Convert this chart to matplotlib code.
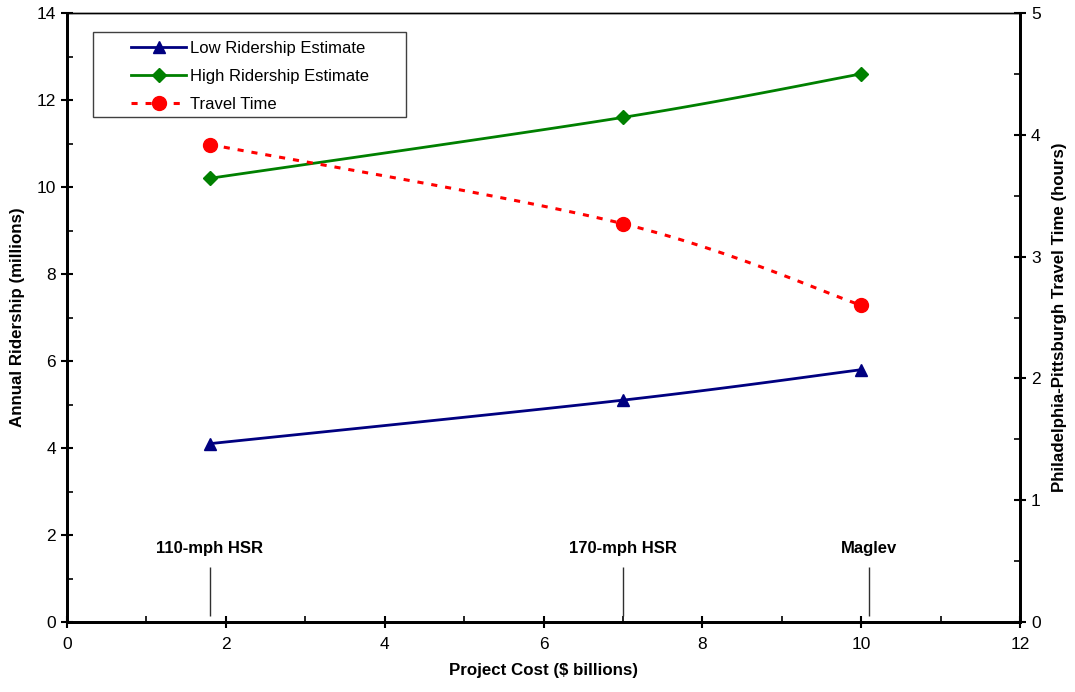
import numpy as np
import matplotlib
matplotlib.use("Agg")
import matplotlib.pyplot as plt
from matplotlib.ticker import MultipleLocator
from matplotlib.patches import Rectangle

plt.rcParams['font.family'] = ['Liberation Sans', 'DejaVu Sans']

cost = [1.8, 7.0, 10.0]
low_rider = [4.1, 5.1, 5.8]
high_rider = [10.2, 11.6, 12.6]
travel_time = [3.92, 3.27, 2.60]

options = ['110-mph HSR', '170-mph HSR', 'Maglev']
option_x = [1.8, 7.0, 10.1]


def smooth(x, y, n=40):
    # Excel-style bezier smoothing through the points
    p = np.column_stack([x, y]).astype(float)
    ext = np.vstack([p[0], p, p[-1]])
    out = []
    for i in range(len(p) - 1):
        p0, p1, p2, p3 = ext[i], ext[i + 1], ext[i + 2], ext[i + 3]
        c1 = p1 + (p2 - p0) / 6
        c2 = p2 - (p3 - p1) / 6
        t = np.linspace(0, 1, n)[:, None]
        seg = ((1 - t) ** 3) * p1 + 3 * ((1 - t) ** 2) * t * c1 + 3 * (1 - t) * t ** 2 * c2 + t ** 3 * p2
        out.append(seg if i == 0 else seg[1:])
    s = np.vstack(out)
    return s[:, 0], s[:, 1]


fig = plt.figure(figsize=(10.75, 6.92), dpi=100)
ax = fig.add_axes([67 / 1075, 70 / 692, 953 / 1075, 609 / 692])
ax2 = ax.twinx()

navy = '#000080'
green = '#008000'
red = '#ff0000'
dash = (0, (2.0, 2.6))

sx, sy = smooth(cost, low_rider)
ax.plot(sx, sy, color=navy, lw=2)
ax.plot(cost, low_rider, ls='none', marker='^', color=navy, ms=9)
sx, sy = smooth(cost, high_rider)
ax.plot(sx, sy, color=green, lw=2)
ax.plot(cost, high_rider, ls='none', marker='D', color=green, ms=7)
sx, sy = smooth(cost, travel_time)
ax2.plot(sx, sy, color=red, lw=2.2, ls=dash)
ax2.plot(cost, travel_time, ls='none', marker='o', color=red, ms=10)

# legend handles
l1, = ax.plot([], [], color=navy, lw=2, marker='^', ms=9)
l2, = ax.plot([], [], color=green, lw=2, marker='D', ms=7)
l3, = ax.plot([], [], color=red, lw=2.2, ls=dash, marker='o', ms=10)
leg = ax.legend([l1, l2, l3], ['Low Ridership Estimate', 'High Ridership Estimate', 'Travel Time'],
                loc='upper left', bbox_to_anchor=(64 / 953, 1 - 28 / 609), fontsize=12,
                frameon=False, handlelength=3.3, borderpad=0, labelspacing=0.78,
                handletextpad=0.25, borderaxespad=0)
leg.set_zorder(10)
ax.add_patch(Rectangle((26 / 953, 505 / 609), 313 / 953, 85 / 609, transform=ax.transAxes,
                       facecolor='white', edgecolor='#404040', lw=1, zorder=9))

for name, xv in zip(options, option_x):
    ax.vlines(xv, 0.14, 1.26, color='#303030', lw=1)
    ax.text(xv, 1.7, name, ha='center', va='center', fontsize=12, fontweight='bold')

ax.set_xlim(0, 12)
ax.set_ylim(0, 14)
ax2.set_ylim(0, 5)
ax.xaxis.set_major_locator(MultipleLocator(2))
ax.xaxis.set_minor_locator(MultipleLocator(1))
ax.yaxis.set_major_locator(MultipleLocator(2))
ax.yaxis.set_minor_locator(MultipleLocator(1))
ax2.yaxis.set_major_locator(MultipleLocator(1))
ax2.yaxis.set_minor_locator(MultipleLocator(0.5))

for a in (ax, ax2):
    a.tick_params(which='major', direction='inout', length=9, width=1.5, labelsize=12.5)
    a.tick_params(which='minor', direction='in', length=4, width=1.2)
    for side in ('left', 'right', 'bottom'):
        a.spines[side].set_linewidth(2)
    a.spines['top'].set_linewidth(1)
ax.tick_params(axis='x', pad=6)

ax.set_xlabel('Project Cost ($ billions)', fontsize=12.2, fontweight='bold', labelpad=8)
ax.set_ylabel('Annual Ridership (millions)', fontsize=12.2, fontweight='bold', labelpad=8)
ax2.set_ylabel('Philadelphia-Pittsburgh Travel Time (hours)', fontsize=12.2, fontweight='bold', labelpad=8)

fig.savefig('out.png', dpi=100)
plt.close()
